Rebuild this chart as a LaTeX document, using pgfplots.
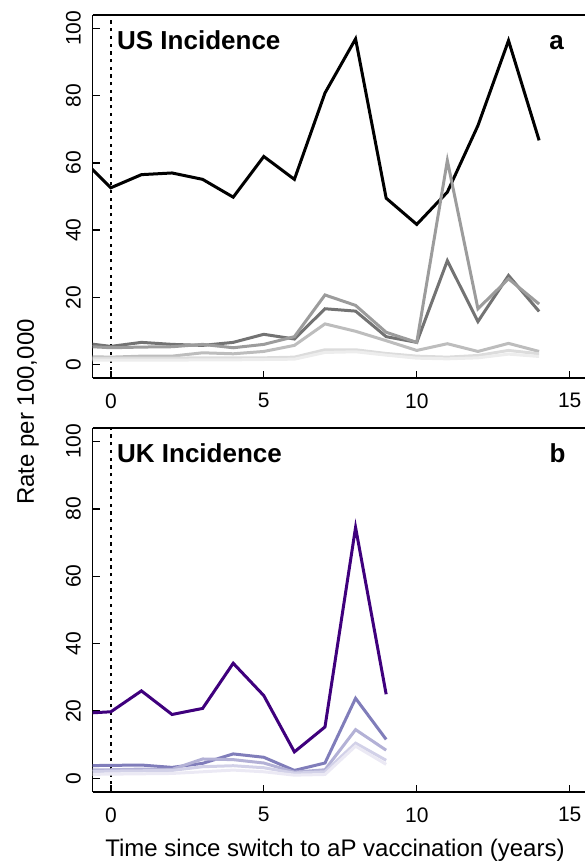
\documentclass[border=0pt]{standalone}
\usepackage{fontspec}
\setmainfont{Liberation Sans}
\usepackage{pgfplots}
\pgfplotsset{compat=1.18}
\definecolor{g1}{HTML}{737373}
\definecolor{g2}{HTML}{9C9C9C}
\definecolor{g3}{HTML}{BDBDBD}
\definecolor{g4}{HTML}{DCDCDC}
\definecolor{g5}{HTML}{EDEDED}
\definecolor{p0}{HTML}{3F007D}
\definecolor{p1}{HTML}{807DBA}
\definecolor{p2}{HTML}{B3B1D6}
\definecolor{p3}{HTML}{D2D1E8}
\definecolor{p4}{HTML}{EBE9F4}
\pgfplotsset{
  panel/.style={
    scale only axis, width=492.5pt, height=363pt,
    xmin=-0.6, xmax=15.5, ymin=-4, ymax=104,
    axis x line*=box, axis y line*=left,
    axis line style={-, line width=1.5pt},
    xtick={0,5,10,15}, ytick={0,20,40,60,80,100},
    xtick pos=bottom, ytick pos=left,
    tick align=inside, major tick length=7pt,
    tick style={line width=1.3pt, black},
    /pgf/number format/assume math mode=true,
    tick label style={font=\fontsize{21}{24}\selectfont},
    xticklabel style={yshift=-12pt},
    yticklabel style={rotate=90, anchor=south, inner sep=0pt, yshift=11.5pt},
    every axis plot/.append style={no markers, line width=3pt, line join=miter, miter limit=10},
  }
}
\begin{document}
\begin{tikzpicture}[x=1pt,y=1pt]
\useasboundingbox (0,0) rectangle (585,863);
% ---------- US panel ----------
\begin{axis}[panel, at={(92.5pt,485pt)}, anchor=south west]
\draw[line width=1.5pt, dash pattern=on 3.3pt off 4.4pt] (axis cs:0,-4) -- (axis cs:0,104);
\addplot[black] coordinates {(-1,61.6)(0,52.6)(1,56.5)(2,57.0)(3,55.1)(4,49.8)(5,61.9)(6,55.1)(7,80.8)(8,96.9)(9,49.5)(10,41.7)(11,51.3)(12,71.1)(13,96.4)(14,66.7)};
\addplot[g1] coordinates {(-1,6.5)(0,5.4)(1,6.6)(2,6.0)(3,5.7)(4,6.6)(5,9.0)(6,7.6)(7,16.6)(8,15.9)(9,8.3)(10,6.6)(11,30.9)(12,12.8)(13,26.5)(14,15.8)};
\addplot[g2] coordinates {(-1,5.5)(0,5.0)(1,5.2)(2,5.3)(3,6.0)(4,5.0)(5,6.0)(6,8.3)(7,20.7)(8,17.6)(9,9.6)(10,6.6)(11,60.7)(12,16.6)(13,25.5)(14,18.0)};
\addplot[g3] coordinates {(-1,2.4)(0,2.2)(1,2.5)(2,2.5)(3,3.5)(4,3.2)(5,3.9)(6,5.7)(7,12.1)(8,9.9)(9,7.1)(10,4.2)(11,6.2)(12,3.9)(13,6.3)(14,3.9)};
\addplot[g4] coordinates {(-1,1.9)(0,1.9)(1,1.9)(2,1.9)(3,2.0)(4,2.0)(5,2.0)(6,2.2)(7,4.4)(8,4.4)(9,3.3)(10,2.5)(11,2.2)(12,2.7)(13,4.2)(14,3.2)};
\addplot[g5] coordinates {(-1,1.4)(0,1.3)(1,1.3)(2,1.3)(3,1.4)(4,1.4)(5,1.5)(6,1.6)(7,3.6)(8,3.8)(9,2.8)(10,1.9)(11,1.7)(12,2.0)(13,3.1)(14,2.4)};
\node[anchor=base west, inner sep=0pt, font=\fontsize{26}{30}\selectfont\bfseries] at (axis cs:0.2,93.6) {US Incidence};
\node[anchor=base, inner sep=0pt, font=\fontsize{26}{30}\selectfont\bfseries] at (axis cs:14.57,93.6) {a};
\end{axis}
% ---------- UK panel ----------
\begin{axis}[panel, at={(92.5pt,71pt)}, anchor=south west, height=364pt]
\draw[line width=1.5pt, dash pattern=on 3.3pt off 4.4pt] (axis cs:0,-4) -- (axis cs:0,104);
\addplot[p0] coordinates {(-1,19.3)(0,19.8)(1,26.0)(2,19.0)(3,20.8)(4,34.2)(5,24.6)(6,7.9)(7,15.3)(8,74.5)(9,25.0)};
\addplot[p1] coordinates {(-1,3.8)(0,3.9)(1,4.0)(2,3.3)(3,4.5)(4,7.3)(5,6.3)(6,2.4)(7,4.6)(8,23.8)(9,11.6)};
\addplot[p2] coordinates {(-1,2.5)(0,2.6)(1,2.8)(2,2.7)(3,5.8)(4,5.6)(5,4.6)(6,1.9)(7,2.6)(8,14.5)(9,8.4)};
\addplot[p3] coordinates {(-1,2.0)(0,2.2)(1,2.3)(2,2.4)(3,3.5)(4,3.8)(5,3.2)(6,1.6)(7,2.0)(8,10.5)(9,5.4)};
\addplot[p4] coordinates {(-1,1.2)(0,1.3)(1,1.4)(2,1.5)(3,2.0)(4,2.5)(5,2.0)(6,1.0)(7,1.2)(8,9.6)(9,4.2)};
\node[anchor=base west, inner sep=0pt, font=\fontsize{26}{30}\selectfont\bfseries] at (axis cs:0.2,93.9) {UK Incidence};
\node[anchor=base, inner sep=0pt, font=\fontsize{26}{30}\selectfont\bfseries] at (axis cs:14.6,93.9) {b};
\end{axis}
\node[rotate=90, font=\fontsize{24}{28}\selectfont] at (28,451) {Rate per 100,000};
\node[anchor=base, font=\fontsize{24}{28}\selectfont] at (335,6) {Time since switch to aP vaccination (years)};
\end{tikzpicture}
\end{document}
